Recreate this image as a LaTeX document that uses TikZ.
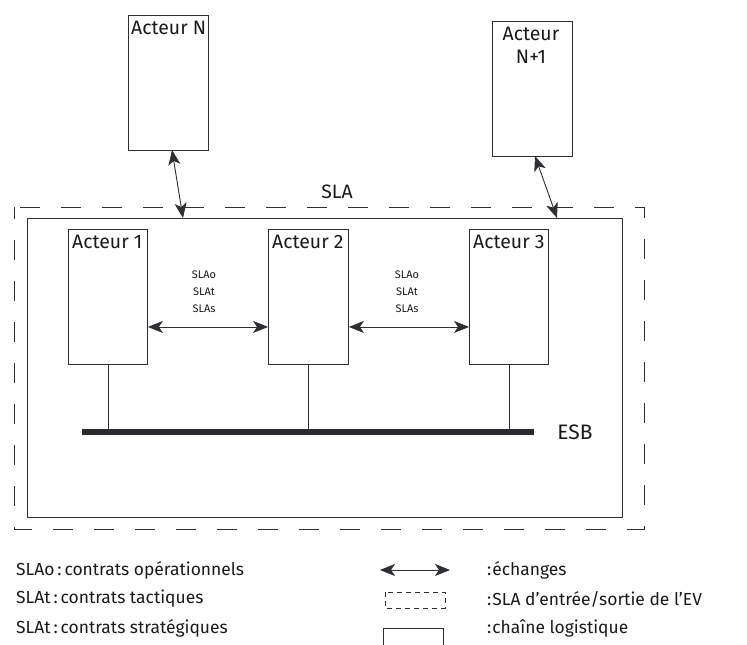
\documentclass[tikz,border=0pt]{standalone}
\usepackage{fontspec}
\setmainfont{Fira Sans}
\usetikzlibrary{arrows.meta,calc}
\definecolor{ink}{HTML}{2E2E33}
\definecolor{txt}{HTML}{1A1A1A}
\begin{document}
\begin{tikzpicture}[x=1bp,y=-1bp,
  every node/.style={text=txt},
  boxst/.style={draw=ink,line width=0.9bp,minimum width=80bp,minimum height=135bp,anchor=north west,inner sep=0pt},
  lbl/.style={font=\fontsize{17.5}{19}\selectfont,inner sep=0pt},
  blbl/.style={font=\fontsize{19.5}{23}\selectfont,inner sep=0pt},
  small/.style={font=\fontsize{11}{17}\selectfont,align=center,inner sep=0pt},
  tip/.tip={Stealth[length=15bp,width=12bp,inset=4bp]},
  exch/.style={draw=ink,line width=0.9bp,tip-tip},
  slabox/.style={draw=ink,line width=0.9bp,dash pattern=on 20bp off 21bp},
  chain/.style={draw=ink,line width=0.9bp},
  bus/.style={draw=ink!90!black,line width=6bp},
  link/.style={draw=ink,line width=0.8bp}]
\useasboundingbox (0,0) rectangle (747,645);

% external actors
\node[boxst] (aN) at (128,15) {};
\node[blbl,anchor=north west] (aNl) at (131,21) {Acteur N};
\node[boxst] (aN1) at (492,21) {};
\node[blbl,anchor=north,align=center] (aN1l) at (531,27) {Acteur\\N+1};

% SLA dashed and chain rectangle
\draw[slabox,dash phase=8bp] (14,207) rectangle (644,529);
\node[blbl] (sla) at (337,192) {SLA};
\draw[chain] (27,218) rectangle (622,517);

% inner actors
\node[boxst,minimum width=79bp] (a1) at (68,229) {};
\node[blbl,anchor=north west] (a1l) at (72,235) {Acteur 1};
\node[boxst] (a2) at (268,229) {};
\node[blbl,anchor=north west] (a2l) at (272,235) {Acteur 2};
\node[boxst,minimum width=79bp] (a3) at (469,229) {};
\node[blbl,anchor=north west] (a3l) at (473,235) {Acteur 3};

% contract labels
\node[small] (s12) at (204,292) {SLAo\\SLAt\\SLAs};
\node[small] (s23) at (407,292) {SLAo\\SLAt\\SLAs};

% exchanges
\coordinate (aNb) at (172,150);
\coordinate (cNt) at (183,218);
\coordinate (aN1b) at (535,156);
\coordinate (cN1t) at (557,218);
\draw[exch] (aNb) -- (cNt);
\draw[exch] (aN1b) -- (cN1t);
\draw[exch] ($(a1.east)+(0,30)$) -- ($(a2.west)+(0,30)$);
\draw[exch] ($(a2.east)+(0,30)$) -- ($(a3.west)+(0,30)$);

% ESB
\coordinate (busL) at (82,432);
\coordinate (busR) at (534,432);
\draw[bus] (busL) -- (busR);
\node[font=\fontsize{21}{23}\selectfont,inner sep=0pt] (esb) at (575,432) {ESB};
\draw[link] (a1.south) -- (a1.south |- busL);
\draw[link] (a2.south) -- (a2.south |- busL);
\draw[link] (a3.south) -- (a3.south |- busL);

% legend
\node[lbl,anchor=west] (l1) at (16,570) {SLAo\,:\,contrats opérationnels};
\node[lbl,anchor=west] (l2) at (16,599) {SLAt\,:\,contrats tactiques};
\node[lbl,anchor=west] (l3) at (16,628) {SLAt\,:\,contrats stratégiques};
\coordinate (lgA) at (380,570);
\coordinate (lgB) at (450,570);
\draw[exch] (lgA) -- (lgB);
\draw[draw=ink,line width=0.8bp,dash pattern=on 5bp off 4bp] (385,592) rectangle (445,608);
\draw[chain] (383,628) rectangle (443,650);
\node[lbl,anchor=west] (r1) at (487,570) {:\kern1bp échanges};
\node[lbl,anchor=west] (r2) at (487,599) {:\kern1bp SLA d’entrée/sortie de l’EV};
\node[lbl,anchor=west] (r3) at (487,628) {:\kern1bp chaîne logistique};
\end{tikzpicture}
\end{document}
